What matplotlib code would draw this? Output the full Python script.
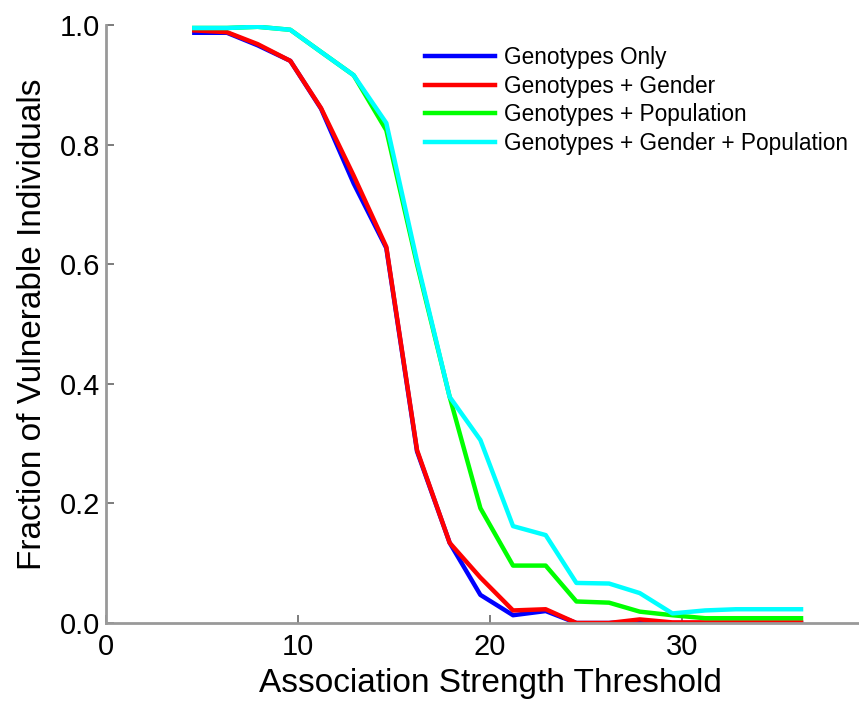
import matplotlib
matplotlib.use("Agg")
import matplotlib.pyplot as plt

plt.rcParams['font.family'] = ['Liberation Sans', 'DejaVu Sans']

# Datos
umbral = [4.6, 6.3, 7.9, 9.6, 11.2, 12.9, 14.6, 16.2, 17.9, 19.5,
          21.2, 22.9, 24.5, 26.2, 27.8, 29.5, 31.2, 32.8, 34.5, 36.2]
solo_genotipos = [0.987, 0.987, 0.966, 0.94, 0.86, 0.735, 0.627, 0.287, 0.134, 0.047,
                  0.013, 0.02, 0.0, 0.0, 0.003, 0.0, 0.0, 0.0, 0.0, 0.0]
gen_genero = [0.991, 0.988, 0.968, 0.94, 0.861, 0.748, 0.629, 0.289, 0.134, 0.076,
              0.021, 0.023, 0.0, 0.0, 0.006, 0.001, 0.001, 0.001, 0.001, 0.001]
gen_poblacion = [0.995, 0.995, 0.997, 0.992, 0.955, 0.916, 0.824, 0.6, 0.378, 0.192,
                 0.096, 0.096, 0.036, 0.034, 0.019, 0.013, 0.008, 0.008, 0.008, 0.008]
gen_genero_pob = [0.995, 0.995, 0.997, 0.992, 0.955, 0.916, 0.836, 0.605, 0.378, 0.306,
                  0.162, 0.147, 0.067, 0.066, 0.05, 0.016, 0.021, 0.023, 0.023, 0.023]

series = [
    ("Genotypes Only", solo_genotipos, "#0000ff"),
    ("Genotypes + Gender", gen_genero, "#ff0000"),
    ("Genotypes + Population", gen_poblacion, "#00ff00"),
    ("Genotypes + Gender + Population", gen_genero_pob, "#00ffff"),
]

fig = plt.figure(figsize=(8.59, 7.03), dpi=100)
ax = fig.add_axes([106 / 859, 80 / 703, 768 / 859, 598 / 703])

for nombre, valores, color in series:
    ax.plot(umbral, valores, color=color, lw=3.2, label=nombre)

ax.set_xlim(0, 40)
ax.set_ylim(0, 1)
ax.set_xticks([0, 10, 20, 30, 40])
ax.set_yticks([0, 0.2, 0.4, 0.6, 0.8, 1.0])
ax.set_yticklabels(["0.0", "0.2", "0.4", "0.6", "0.8", "1.0"])
ax.tick_params(direction='in', length=6, width=1.2, color='#666666',
               labelsize=21)
ax.tick_params(axis='x', pad=7)
ax.tick_params(axis='y', pad=4)

for lado in ['top', 'right']:
    ax.spines[lado].set_visible(False)
for lado in ['left', 'bottom']:
    ax.spines[lado].set_color('#999999')
    ax.spines[lado].set_linewidth(2)

ax.set_xlabel("Association Strength Threshold", fontsize=24, labelpad=5)
ax.set_ylabel("Fraction of Vulnerable Individuals", fontsize=24, labelpad=9)

ax.legend(loc='upper left', bbox_to_anchor=(425 / 859, 1 - 46 / 703),
          bbox_transform=fig.transFigure, frameon=False, fontsize=16.3,
          borderpad=0, borderaxespad=0, handlelength=3.1, handletextpad=0.4,
          labelspacing=0.25)

fig.savefig("out.png", dpi=100)
